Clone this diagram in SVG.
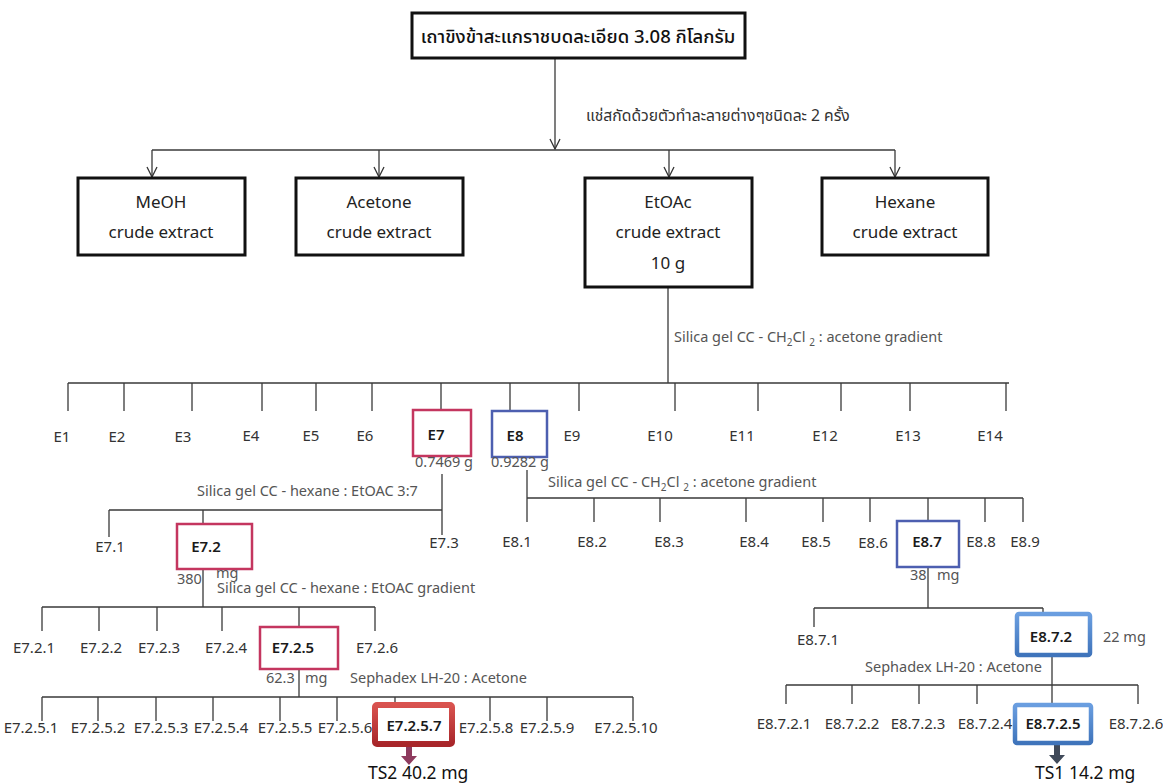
<svg xmlns="http://www.w3.org/2000/svg" width="1163" height="784" viewBox="0 0 1163 784">
<style>
.ln{stroke:#3a3a3a;stroke-width:1.3;fill:none}
.bx{fill:#fff;stroke:#111;stroke-width:3}
.t{font-family:"Noto Sans","Noto Sans Thai","Loma","Garuda","DejaVu Sans",sans-serif;fill:#333;font-size:15px}
.m{text-anchor:middle}
.bt{font-size:17px;fill:#222}
.lab{font-size:14.5px;fill:#555}
.w{font-size:14.5px;fill:#555}
.b{font-weight:600;fill:#1a1a1a}
.rd{fill:#fff;stroke:#c4365f;stroke-width:2.5}
.bl{fill:#fff;stroke:#4d5fb0;stroke-width:2.5}
.rd2{fill:#fff;stroke:url(#gr);stroke-width:6}
.bl2{fill:#fff;stroke:url(#gb);stroke-width:4.5}
.ts{font-size:17.5px;fill:#111}
.ttl{font-size:18.5px;font-weight:500;fill:#111}
.thl{font-size:15.7px}
</style>
<defs>
<marker id="ah" viewBox="0 0 12 12" refX="11" refY="6" markerWidth="12" markerHeight="12" markerUnits="userSpaceOnUse" orient="auto">
<path d="M1,1 L11,6 L1,11" fill="none" stroke="#333" stroke-width="1.3"/>
</marker>
<linearGradient id="gr" x1="0" y1="0" x2="0" y2="1"><stop offset="0" stop-color="#d9534f"/><stop offset="1" stop-color="#a8262a"/></linearGradient>
<linearGradient id="gb" x1="0" y1="0" x2="0" y2="1"><stop offset="0" stop-color="#6a9ee0"/><stop offset="1" stop-color="#3f74bb"/></linearGradient>
</defs>

<g id="connectors">
<path class="ln" d="M555,58 V149" marker-end="url(#ah)"/>
<path class="ln" d="M152,150 H895"/>
<path class="ln" d="M152,150 V177" marker-end="url(#ah)"/>
<path class="ln" d="M379,150 V177" marker-end="url(#ah)"/>
<path class="ln" d="M669,150 V177" marker-end="url(#ah)"/>
<path class="ln" d="M895,150 V177" marker-end="url(#ah)"/>
<path class="ln" d="M668,288 V383 M68,383 H1009"/>
<path class="ln" d="M68,383 V411 M124,383 V411 M192,383 V411 M262,383 V411 M316,383 V411 M372,383 V411 M441,383 V410 M510,383 V411 M579,383 V411 M675,383 V411 M758,383 V411 M841,383 V411 M910,383 V411 M1006,383 V411"/>
<path class="ln" d="M442,474 V535 M109,510 H442 M109,510 V537 M203,510 V524"/>
<path class="ln" d="M527,470 V522 M527,498 H1023 M594,498 V522 M660,498 V522 M746,498 V522 M823,498 V522 M870,498 V522 M928,498 V521 M985,498 V522 M1023,498 V522"/>
<path class="ln" d="M203,569 V607 M42,607 H375 M42,607 V631 M99,607 V631 M157,607 V631 M222,607 V631 M299,607 V627 M375,607 V631"/>
<path class="ln" d="M299,669 V697 M42,697 H633 M42,697 V721 M98,697 V721 M156,697 V721 M213,697 V721 M280,697 V721 M337,697 V721 M395,697 V702 M490,697 V721 M547,697 V721 M633,697 V721"/>
<path class="ln" d="M928,567 V608 M814,608 H1043 M814,608 V627 M1043,608 V612"/>
<path class="ln" d="M1052,657 V685 M786,685 H1138 M786,685 V704 M852,685 V704 M919,685 V704 M977,685 V704 M1052,685 V703 M1138,685 V704"/>
<path d="M406,747 H412 V756 H417 L409,765 L401,756 H406 Z" fill="#8e3b5e"/>
<path d="M1054,745 H1060 V755 H1065 L1057,764 L1049,755 H1054 Z" fill="#404a5a"/>
</g>

<g id="labels">
<text class="t thl" x="586" y="121">แช่สกัดด้วยตัวทำละลายต่างๆชนิดละ 2 ครั้ง</text>
<text class="t lab" x="674" y="342">Silica gel CC - CH<tspan font-size="10" dy="4">2</tspan><tspan dy="-4">Cl </tspan><tspan font-size="10" dy="4">2</tspan><tspan dy="-4"> : acetone gradient</tspan></text>
<text class="t lab" x="197" y="496">Silica gel CC - hexane : EtOAC 3:7</text>
<text class="t lab" x="548" y="487">Silica gel CC - CH<tspan font-size="10" dy="4">2</tspan><tspan dy="-4">Cl </tspan><tspan font-size="10" dy="4">2</tspan><tspan dy="-4"> : acetone gradient</tspan></text>
<text class="t lab" x="217" y="593">Silica gel CC - hexane : EtOAC gradient</text>
<text class="t lab" x="350" y="683">Sephadex LH-20 : Acetone</text>
<text class="t lab" x="865" y="672">Sephadex LH-20 : Acetone</text>
</g>

<g id="n-root"><rect class="bx" x="412" y="13" width="333" height="45"/><text class="t m ttl" x="578" y="43">เถาขิงข้าสะแกราชบดละเอียด 3.08 กิโลกรัม</text></g>
<g id="n-meoh"><rect class="bx" x="78" y="178" width="167" height="77"/><text class="t m bt" x="161" y="208">MeOH</text><text class="t m bt" x="161" y="238">crude extract</text></g>
<g id="n-acetone"><rect class="bx" x="296" y="178" width="167" height="77"/><text class="t m bt" x="379" y="208">Acetone</text><text class="t m bt" x="379" y="238">crude extract</text></g>
<g id="n-etoac"><rect class="bx" x="585" y="178" width="167" height="109"/><text class="t m bt" x="668" y="208">EtOAc</text><text class="t m bt" x="668" y="238">crude extract</text><text class="t m bt" x="668" y="269">10 g</text></g>
<g id="n-hexane"><rect class="bx" x="822" y="178" width="166" height="77"/><text class="t m bt" x="905" y="208">Hexane</text><text class="t m bt" x="905" y="238">crude extract</text></g>

<g id="n-E1"><text class="t m" x="62" y="442">E1</text></g>
<g id="n-E2"><text class="t m" x="117" y="442">E2</text></g>
<g id="n-E3"><text class="t m" x="183" y="442">E3</text></g>
<g id="n-E4"><text class="t m" x="251" y="441">E4</text></g>
<g id="n-E5"><text class="t m" x="311" y="441">E5</text></g>
<g id="n-E6"><text class="t m" x="365" y="441">E6</text></g>
<g id="n-E7"><rect class="rd" x="413" y="410" width="58" height="46"/><text class="t m b" x="436" y="440">E7</text><text class="t m w" x="444" y="467">0.7469 g</text></g>
<g id="n-E8"><rect class="bl" x="492" y="411" width="55" height="46"/><text class="t m b" x="515" y="441">E8</text><text class="t m w" x="520" y="467">0.9282 g</text></g>
<g id="n-E9"><text class="t m" x="572" y="441">E9</text></g>
<g id="n-E10"><text class="t m" x="660" y="441">E10</text></g>
<g id="n-E11"><text class="t m" x="742" y="441">E11</text></g>
<g id="n-E12"><text class="t m" x="825" y="441">E12</text></g>
<g id="n-E13"><text class="t m" x="908" y="441">E13</text></g>
<g id="n-E14"><text class="t m" x="990" y="441">E14</text></g>

<g id="n-E7-1"><text class="t m" x="110" y="552">E7.1</text></g>
<g id="n-E7-2"><rect class="rd" x="177" y="524" width="75" height="45"/><text class="t m b" x="206" y="552">E7.2</text><text class="t w" x="177" y="584">380</text><text class="t w" x="216" y="578">mg</text></g>
<g id="n-E7-3"><text class="t m" x="444" y="548">E7.3</text></g>

<g id="n-E8-1"><text class="t m" x="517" y="547">E8.1</text></g>
<g id="n-E8-2"><text class="t m" x="592" y="547">E8.2</text></g>
<g id="n-E8-3"><text class="t m" x="669" y="547">E8.3</text></g>
<g id="n-E8-4"><text class="t m" x="754" y="547">E8.4</text></g>
<g id="n-E8-5"><text class="t m" x="816" y="547">E8.5</text></g>
<g id="n-E8-6"><text class="t m" x="873" y="548">E8.6</text></g>
<g id="n-E8-7"><rect class="bl" x="897" y="521" width="62" height="46" stroke="#5a60b4"/><text class="t m b" x="927" y="547">E8.7</text><text class="t w" x="910" y="580">38</text><text class="t w" x="937" y="580">mg</text></g>
<g id="n-E8-8"><text class="t m" x="981" y="547">E8.8</text></g>
<g id="n-E8-9"><text class="t m" x="1025" y="547">E8.9</text></g>

<g id="n-E7-2-1"><text class="t m" x="34" y="653">E7.2.1</text></g>
<g id="n-E7-2-2"><text class="t m" x="101" y="653">E7.2.2</text></g>
<g id="n-E7-2-3"><text class="t m" x="159" y="653">E7.2.3</text></g>
<g id="n-E7-2-4"><text class="t m" x="226" y="653">E7.2.4</text></g>
<g id="n-E7-2-5"><rect class="rd" x="260" y="627" width="78" height="42"/><text class="t m b" x="293" y="653">E7.2.5</text><text class="t w" x="266" y="683">62.3</text><text class="t w" x="305" y="683">mg</text></g>
<g id="n-E7-2-6"><text class="t m" x="377" y="653">E7.2.6</text></g>

<g id="n-E7-2-5-1"><text class="t m" x="31" y="733">E7.2.5.1</text></g>
<g id="n-E7-2-5-2"><text class="t m" x="98" y="733">E7.2.5.2</text></g>
<g id="n-E7-2-5-3"><text class="t m" x="161" y="733">E7.2.5.3</text></g>
<g id="n-E7-2-5-4"><text class="t m" x="221" y="733">E7.2.5.4</text></g>
<g id="n-E7-2-5-5"><text class="t m" x="285" y="733">E7.2.5.5</text></g>
<g id="n-E7-2-5-6"><text class="t m" x="345" y="733">E7.2.5.6</text></g>
<g id="n-E7-2-5-7"><rect class="rd2" x="375" y="705" width="77" height="39" rx="2"/><text class="t m b" x="414" y="731">E7.2.5.7</text><text class="t ts" x="368" y="779">TS2 40.2 mg</text></g>
<g id="n-E7-2-5-8"><text class="t m" x="486" y="733">E7.2.5.8</text></g>
<g id="n-E7-2-5-9"><text class="t m" x="547" y="733">E7.2.5.9</text></g>
<g id="n-E7-2-5-10"><text class="t m" x="626" y="733">E7.2.5.10</text></g>

<g id="n-E8-7-1"><text class="t m" x="818" y="645">E8.7.1</text></g>
<g id="n-E8-7-2"><rect class="bl2" x="1017" y="614" width="73" height="41" rx="2"/><text class="t m b" x="1051" y="642">E8.7.2</text><text class="t w" x="1103" y="642">22 mg</text></g>

<g id="n-E8-7-2-1"><text class="t m" x="784" y="729">E8.7.2.1</text></g>
<g id="n-E8-7-2-2"><text class="t m" x="852" y="729">E8.7.2.2</text></g>
<g id="n-E8-7-2-3"><text class="t m" x="918" y="729">E8.7.2.3</text></g>
<g id="n-E8-7-2-4"><text class="t m" x="985" y="729">E8.7.2.4</text></g>
<g id="n-E8-7-2-5"><rect class="bl2" x="1015" y="705" width="76" height="38" rx="2"/><text class="t m b" x="1053" y="729">E8.7.2.5</text><text class="t ts" x="1035" y="779">TS1 14.2 mg</text></g>
<g id="n-E8-7-2-6"><text class="t m" x="1136" y="729">E8.7.2.6</text></g>
</svg>
